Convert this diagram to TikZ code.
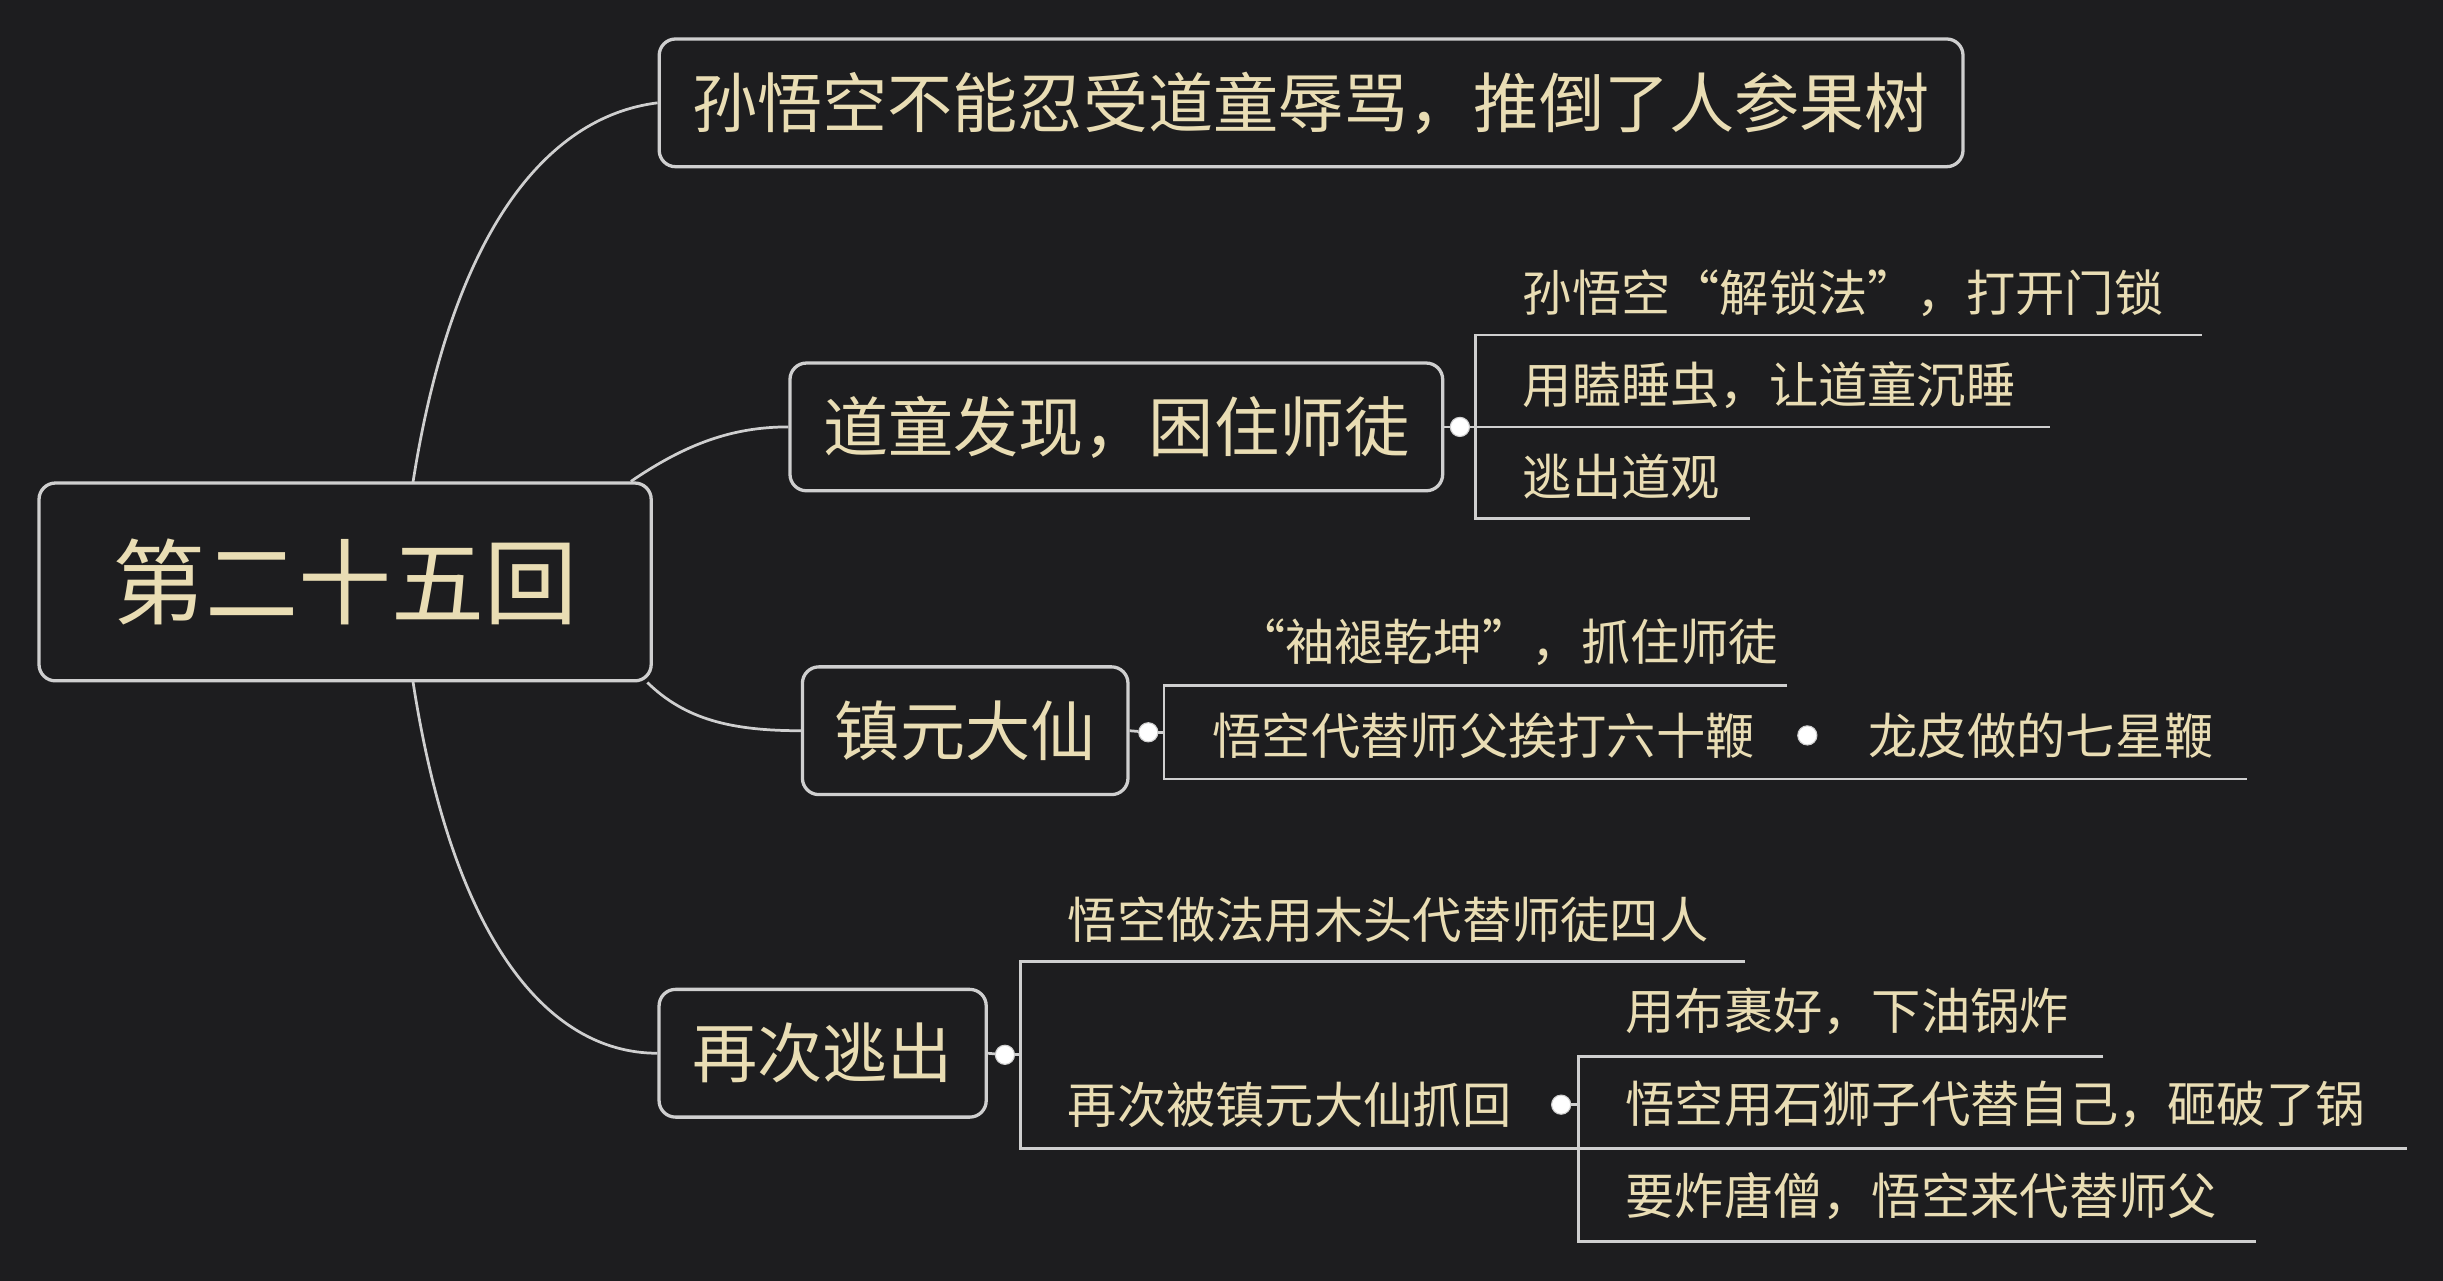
\documentclass[tikz,border=0pt]{standalone}
\usepackage{fontspec}
\setmainfont{Noto Sans CJK SC}
\usetikzlibrary{positioning}
\definecolor{bgdark}{HTML}{1D1D1F}
\definecolor{cream}{HTML}{E9DDB4}
\definecolor{edge}{HTML}{CFCFCF}
\tikzset{
    topic/.style={draw=edge, line width=1.2pt, rounded corners=6pt, text=cream, inner sep=0pt, font=\fontsize{23.8}{24}\selectfont},
    leaf/.style={text=cream, anchor=west, inner sep=0pt, font=\fontsize{18}{18}\selectfont},
    link/.style={draw=edge, line width=1pt},
    knob/.style={circle, fill=white, draw=edge, inner sep=0pt, minimum size=7pt}
}
\begin{document}
\begin{tikzpicture}[x=0.02cm, y=-0.02cm]
    % Background
    \fill[bgdark] (0,0) rectangle (1568,822);
    \useasboundingbox (0,0) rectangle (1568,822);

    % Main topics
    \node[topic, minimum width=7.86cm, minimum height=2.54cm, font=\fontsize{34}{34}\selectfont] (root) at (221.5,373.5) {第二十五回};
    \node[topic, minimum width=16.74cm, minimum height=1.64cm] (fruit) at (841.5,66) {孙悟空不能忍受道童辱骂，推倒了人参果树};
    \node[topic, minimum width=8.38cm, minimum height=1.64cm] (trap) at (716.5,274) {道童发现，困住师徒};
    \node[topic, minimum width=4.18cm, minimum height=1.64cm] (master) at (619.5,469) {镇元大仙};
    \node[topic, minimum width=4.2cm, minimum height=1.64cm] (escape) at (528,676) {再次逃出};

    % Curves from the root
    \coordinate (rootN) at (265,310);
    \coordinate (rootS) at (265,437);
    \draw[link] (rootN) .. controls (290,150) and (350,75) .. (fruit.west);
    \draw[link] ([xshift=-8pt]root.north east) .. controls (440,285) and (470,274) .. (trap.west);
    \draw[link] ([xshift=-2pt]root.south east) .. controls (440,462) and (470,469) .. (master.west);
    \draw[link] (rootS) .. controls (290,600) and (350,676) .. (escape.west);

    % Trap branch
    \node[knob] (k1) at (937,274) {};
    \node[leaf] (lock) at (977,188) {孙悟空“解锁法”，打开门锁};
    \node[leaf] (sleep) at (977,247) {用瞌睡虫，让道童沉睡};
    \node[leaf] (out) at (977,306) {逃出道观};
    \draw[link] (trap.east) -- (k1);
    \draw[link] (1413,215) -- (947,215) -- (947,333) -- (1123,333);
    \draw[link] (k1) -- (1316,274);

    % Master branch
    \node[knob] (k2) at (737,470) {};
    \node[leaf] (sleeve) at (793,412) {“袖褪乾坤”，抓住师徒};
    \node[leaf] (whip) at (778,472) {悟空代替师父挨打六十鞭};
    \node[knob] (k3) at (1160,472) {};
    \node[leaf] (dragon) at (1199,472) {龙皮做的七星鞭};
    \draw[link] (master.east) -- (k2);
    \draw[link] (1147,440) -- (747,440) -- (747,500) -- (1442,500);
    \draw[link] (k2) -- (747,470);

    % Escape branch
    \node[knob] (k4) at (645,677) {};
    \node[leaf] (wood) at (685,590) {悟空做法用木头代替师徒四人};
    \node[leaf] (again) at (685,709) {再次被镇元大仙抓回};
    \node[knob] (k5) at (1002,709) {};
    \node[leaf] (cloth) at (1043,649) {用布裹好，下油锅炸};
    \node[leaf] (lion) at (1043,709) {悟空用石狮子代替自己，砸破了锅};
    \node[leaf] (monk) at (1043,768) {要炸唐僧，悟空来代替师父};
    \draw[link] (escape.east) -- (k4);
    \draw[link] (1120,617) -- (655,617) -- (655,737) -- (1545,737);
    \draw[link] (k4) -- (655,677);
    \draw[link] (1350,678) -- (1013,678) -- (1013,797) -- (1448,797);
    \draw[link] (k5) -- (1013,709);
\end{tikzpicture}
\end{document}
